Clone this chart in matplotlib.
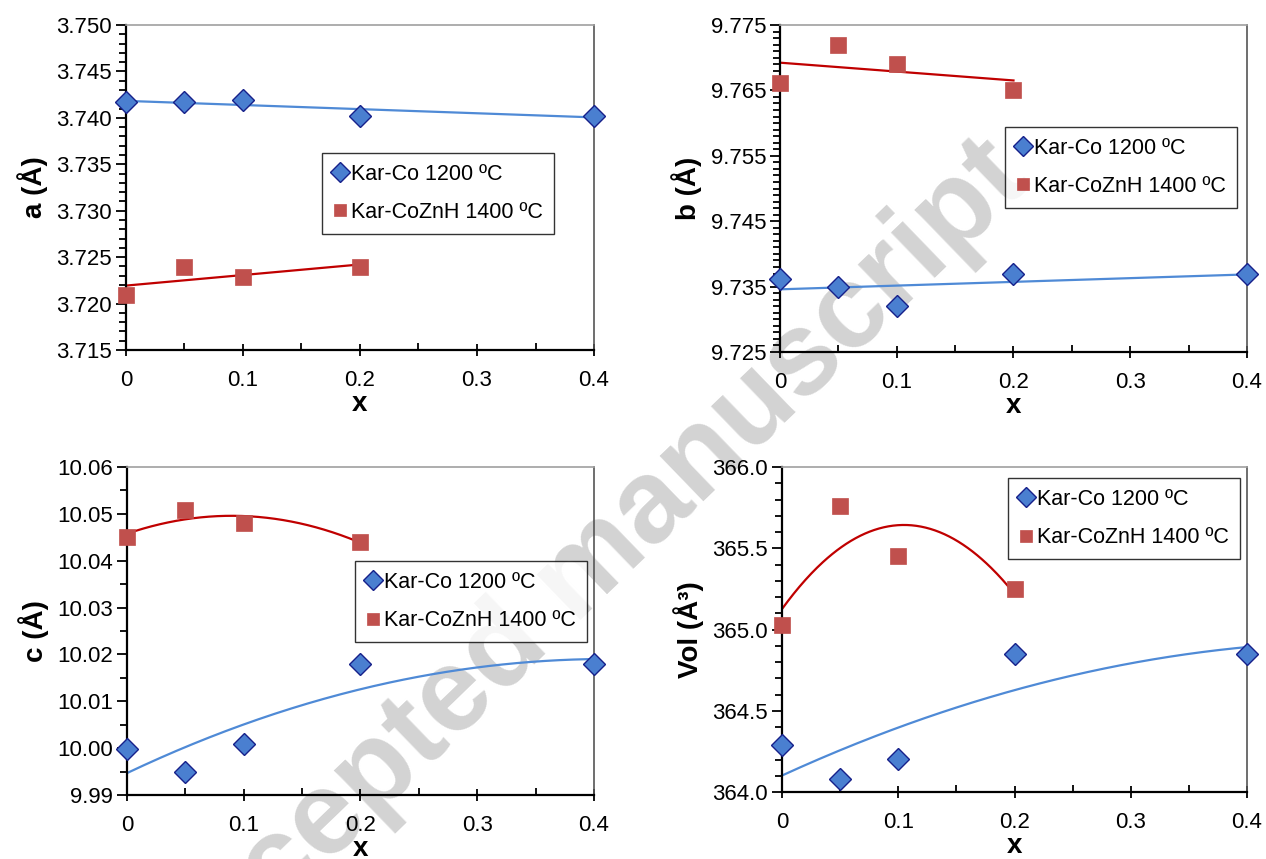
#
# Lattice parameters a, b, c and cell volume vs x for the two Kar series
#

import numpy as np
import matplotlib.pyplot as plt
from matplotlib.ticker import MultipleLocator, FormatStrFormatter, FuncFormatter

plt.rcParams['font.family'] = ['Liberation Sans', 'DejaVu Sans']

x_co = [0.0, 0.05, 0.1, 0.2, 0.4]
x_zn = [0.0, 0.05, 0.1, 0.2]

a_co = [3.7417, 3.7417, 3.7419, 3.74025, 3.74025]
a_zn = [3.72095, 3.72395, 3.72286, 3.72395]

b_co = [9.7362, 9.7350, 9.7320, 9.7370, 9.7370]
b_zn = [9.7661, 9.7720, 9.7690, 9.7651]

c_co = [9.99973, 9.99487, 10.00095, 10.0180, 10.0180]
c_zn = [10.0450, 10.0509, 10.0480, 10.0441]

v_co = [364.291, 364.080, 364.201, 364.851, 364.851]
v_zn = [365.030, 365.758, 365.450, 365.251]

label_co = "Kar-Co 1200 ºC"
label_zn = "Kar-CoZnH 1400 ºC"

BLUE_FACE = "#4a7fd0"
BLUE_EDGE = "#16208a"
BLUE_LINE = "#4f8ad6"
RED_FACE = "#c0504d"
RED_LINE = "#c00000"


def panel(ax, yco, yzn, ylabel, ylim, major, offset, minor, fmt, deg, leg_anchor):
    # trend lines (least squares, like the spreadsheet trendline)
    xs = np.linspace(0, 0.4, 200)
    ax.plot(xs, np.polyval(np.polyfit(x_co, yco, deg), xs), color=BLUE_LINE, lw=1.6, zorder=2)
    xs = np.linspace(0, 0.2, 200)
    ax.plot(xs, np.polyval(np.polyfit(x_zn, yzn, deg), xs), color=RED_LINE, lw=1.6, zorder=2)

    ax.plot(x_co, yco, "D", ms=11.5, mfc=BLUE_FACE, mec=BLUE_EDGE, mew=1.0,
            ls="none", label=label_co, zorder=3, clip_on=False)
    ax.plot(x_zn, yzn, "s", ms=11, mfc=RED_FACE, mec=RED_FACE, mew=0.5,
            ls="none", label=label_zn, zorder=3, clip_on=False)

    ax.set_xlim(0, 0.4)
    ax.set_ylim(*ylim)
    ax.set_facecolor("none")
    ax.xaxis.set_major_locator(MultipleLocator(0.1))
    ax.xaxis.set_minor_locator(MultipleLocator(0.05))
    ax.xaxis.set_major_formatter(FuncFormatter(lambda v, p: "%g" % round(v, 3)))
    ax.yaxis.set_major_locator(MultipleLocator(major, offset=offset))
    ax.yaxis.set_minor_locator(MultipleLocator(minor))
    ax.yaxis.set_major_formatter(FormatStrFormatter(fmt))

    ax.tick_params(axis="x", which="major", direction="inout", length=9, width=1.3,
                   labelsize=16, pad=10)
    ax.tick_params(axis="x", which="minor", direction="in", length=5, width=1.3)
    ax.tick_params(axis="y", which="major", direction="out", length=7, width=1.3,
                   labelsize=16, pad=3)
    ax.tick_params(axis="y", which="minor", direction="out", length=5, width=1.3)

    for s in ("left", "bottom"):
        ax.spines[s].set_linewidth(1.6)
        ax.spines[s].set_color("black")
    ax.spines["top"].set_color("#a0a0a0")
    ax.spines["top"].set_linewidth(1.2)
    ax.spines["right"].set_color("#555555")
    ax.spines["right"].set_linewidth(1.2)

    ax.set_xlabel("x", fontsize=20, fontweight="bold", labelpad=0)
    ax.set_ylabel(ylabel, fontsize=20, fontweight="bold", labelpad=6)

    leg = ax.legend(loc="upper left", bbox_to_anchor=leg_anchor, fontsize=15.5,
                    frameon=True, fancybox=False, edgecolor="black",
                    handlelength=0.7, handletextpad=0.15, markerscale=0.85,
                    borderpad=0.5, labelspacing=0.8, borderaxespad=0)
    leg.get_frame().set_linewidth(1.0)


def main():
    fig = plt.figure(figsize=(12.66, 8.59), dpi=100)

    ax1 = fig.add_axes([0.0995, 0.5926, 0.3697, 0.3783])
    ax2 = fig.add_axes([0.6161, 0.5902, 0.3689, 0.3807])
    ax3 = fig.add_axes([0.1003, 0.0745, 0.3689, 0.3818])
    ax4 = fig.add_axes([0.6177, 0.0780, 0.3673, 0.3783])

    panel(ax1, a_co, a_zn, "a (Å)", (3.715, 3.750), 0.005, 0.0, 0.001, "%.3f", 1, (0.419, 0.606))
    panel(ax2, b_co, b_zn, "b (Å)", (9.725, 9.775), 0.01, 0.005, 0.001, "%.3f", 1, (0.482, 0.688))
    panel(ax3, c_co, c_zn, "c (Å)", (9.99, 10.06), 0.01, 0.0, 0.005, "%.2f", 2, (0.488, 0.713))
    panel(ax4, v_co, v_zn, "Vol (Å³)", (364.0, 366.0), 0.5, 0.0, 0.1, "%.1f", 2, (0.486, 0.966))

    # watermark of the source pdf, sits behind the charts
    fig.text(0.458, 0.327, "Accepted manuscript", fontsize=85, fontweight="bold",
             color="#d3d3d3", rotation=44, ha="center", va="center", zorder=-1)

    fig.savefig("out.png", dpi=100)


if __name__ == "__main__":
    main()
